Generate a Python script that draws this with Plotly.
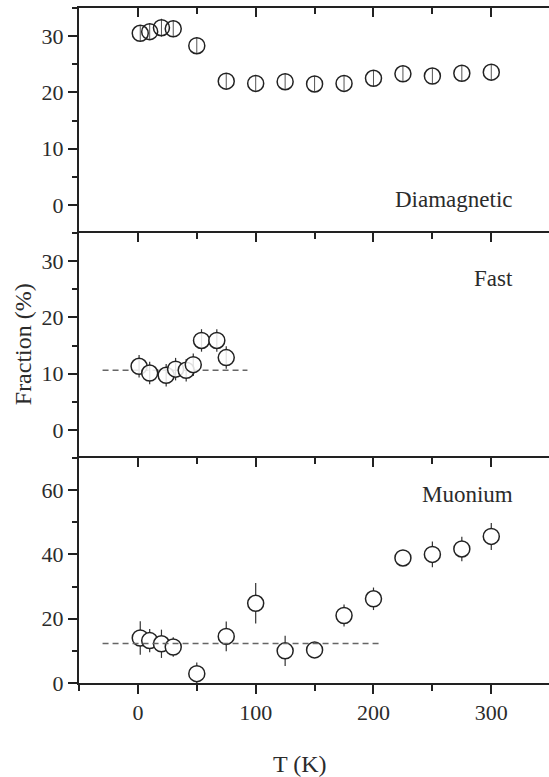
import plotly.graph_objects as go

# ---------------- data ----------------
dia_T = [2, 10, 20, 30, 50, 75, 100, 125, 150, 175, 200, 225, 250, 275, 300]
dia_frac = [30.5, 30.8, 31.5, 31.3, 28.3, 22.0, 21.6, 21.9, 21.5, 21.6, 22.5, 23.3, 22.9, 23.4, 23.6]
dia_err = [1.4, 1.5, 1.6, 1.5, 1.5, 1.4, 1.4, 1.4, 1.4, 1.4, 1.4, 1.4, 1.4, 1.4, 1.4]

fast_T = [1, 10, 24, 32, 41, 47, 54, 67, 75]
fast_frac = [11.3, 10.1, 9.7, 10.8, 10.6, 11.6, 15.9, 15.9, 12.85]
fast_err = [2.0, 2.0, 2.0, 2.0, 2.0, 2.0, 2.0, 2.0, 2.0]
fast_fit_T = [-30, 93]
fast_fit_y = [10.6, 10.6]

mu_T = [2, 10, 20, 30, 50, 75, 100, 125, 150, 175, 200, 225, 250, 275, 300]
mu_frac = [14.0, 13.2, 12.2, 11.2, 2.9, 14.5, 24.8, 10.0, 10.3, 21.0, 26.2, 38.9, 40.0, 41.7, 45.6]
mu_err = [5.2, 3.6, 4.4, 3.0, 3.5, 4.6, 6.3, 4.7, 2.0, 3.4, 3.5, 2.0, 4.0, 3.8, 4.2]
mu_fit_T = [-30, 205]
mu_fit_y = [12.3, 12.3]

x_ticks = [0, 100, 200, 300]
y_ticks_small = [0, 10, 20, 30]
y_ticks_big = [0, 20, 40, 60]

FONT = "Liberation Serif"
INK = "#222222"
TXT = "#2b2b2b"
XR = [-50, 349]

fig = go.Figure()

# top panel: Diamagnetic (open markers, error bars visible inside)
fig.add_trace(go.Scatter(
    x=dia_T, y=dia_frac, xaxis="x3", yaxis="y3", mode="markers",
    marker=dict(symbol="circle-open", size=16, color=INK, line=dict(width=1.5, color=INK)),
    error_y=dict(type="data", array=dia_err, visible=True, width=0, thickness=1, color="#555555"),
    showlegend=False, cliponaxis=False))

# middle panel: Fast
fig.add_trace(go.Scatter(
    x=fast_fit_T, y=fast_fit_y, xaxis="x2", yaxis="y2", mode="lines",
    line=dict(color="#666666", width=1.6, dash="6px,4px"), showlegend=False))
fig.add_trace(go.Scatter(
    x=fast_T, y=fast_frac, xaxis="x2", yaxis="y2", mode="markers",
    marker=dict(symbol="circle", size=16, color="rgba(255,255,255,0.85)", line=dict(width=1.5, color=INK)),
    error_y=dict(type="data", array=fast_err, visible=True, width=0, thickness=1.2, color="#333333"),
    showlegend=False, cliponaxis=False))

# bottom panel: Muonium
fig.add_trace(go.Scatter(
    x=mu_fit_T, y=mu_fit_y, xaxis="x4", yaxis="y", mode="lines",
    line=dict(color="#666666", width=1.6, dash="6px,4px"), showlegend=False))
fig.add_trace(go.Scatter(
    x=mu_T, y=mu_frac, xaxis="x", yaxis="y", mode="markers",
    marker=dict(symbol="circle", size=16, color="white", line=dict(width=1.5, color=INK)),
    error_y=dict(type="data", array=mu_err, visible=True, width=0, thickness=1.2, color="#333333"),
    showlegend=False, cliponaxis=False))

tickfont = dict(family=FONT, size=22, color=TXT)

def xax(**kw):
    d = dict(range=XR, domain=[0, 1], showline=True, linewidth=2, linecolor=INK,
             tickvals=x_ticks, ticklen=9, tickwidth=2, tickcolor=INK,
             minor=dict(dtick=50, tick0=0, ticklen=6, tickwidth=2, tickcolor=INK, ticks=kw.get("ticks", "inside")),
             showgrid=False, zeroline=False, tickfont=tickfont)
    d.update(kw)
    return d

def yax(rng, dom, vals, mdt, **kw):
    d = dict(range=rng, domain=dom, showline=True, linewidth=2, linecolor=INK,
             tickvals=vals, ticks="outside", ticklen=9, tickwidth=2, tickcolor=INK,
             minor=dict(dtick=mdt, tick0=0, ticklen=5, tickwidth=2, tickcolor=INK, ticks="outside"),
             showgrid=False, zeroline=False, tickfont=tickfont)
    d.update(kw)
    return d

def yright(rng, vals, mdt, over):
    return dict(range=rng, overlaying=over, side="right", showline=False,
                tickvals=vals, ticks="inside", ticklen=8, tickwidth=2, tickcolor=INK,
                minor=dict(dtick=mdt, tick0=0, ticklen=4, tickwidth=2, tickcolor=INK, ticks="inside"),
                showticklabels=False, showgrid=False, zeroline=False)

D1 = [0, 1/3]
D2 = [1/3, 2/3]
D3 = [2/3, 1]

fig.update_layout(
    width=549, height=777,
    margin=dict(l=79, r=0, t=8, b=94),
    paper_bgcolor="white", plot_bgcolor="white",
    font=dict(family=FONT, color=TXT),
    hovermode=False,
    xaxis=xax(anchor="y", side="bottom", ticks="outside"),
    xaxis2=xax(anchor="y2", side="top", ticks="inside", showticklabels=False),
    xaxis3=xax(anchor="y3", side="top", ticks="inside", showticklabels=False),
    xaxis4=xax(anchor="y", side="top", ticks="inside", showticklabels=False, overlaying="x"),
    yaxis=yax([0, 70], D1, y_ticks_big, 10),
    yaxis2=yax([-5, 35], D2, y_ticks_small, 5),
    yaxis3=yax([-5, 35], D3, y_ticks_small, 5),
    yaxis4=yright([0, 70], y_ticks_big, 10, "y"),
    yaxis5=yright([-5, 35], y_ticks_small, 5, "y2"),
    yaxis6=yright([-5, 35], y_ticks_small, 5, "y3"),
)

ann_font = dict(family=FONT, size=23, color=TXT)
fig.add_annotation(text="Diamagnetic", xref="x3", yref="y3", x=320, y=1,
                   xanchor="right", yanchor="middle", showarrow=False, font=ann_font)
fig.add_annotation(text="Fast", xref="x2", yref="y2", x=320, y=26.9,
                   xanchor="right", yanchor="middle", showarrow=False, font=ann_font)
fig.add_annotation(text="Muonium", xref="x", yref="y", x=320, y=58.8,
                   xanchor="right", yanchor="middle", showarrow=False, font=ann_font)

title_font = dict(family=FONT, size=24, color=TXT)
fig.add_annotation(text="T (K)", xref="paper", yref="paper", x=(300 - 79) / 470, y=-0.12,
                   xanchor="center", yanchor="middle", showarrow=False, font=title_font)
fig.add_annotation(text="Fraction (%)", xref="paper", yref="paper", x=-0.119, y=0.502,
                   xanchor="center", yanchor="middle", textangle=-90, showarrow=False, font=title_font)

fig.write_html("out.html", config={"displayModeBar": False, "staticPlot": True},
               post_script="document.body.style.margin='0';document.body.style.overflow='hidden';")
